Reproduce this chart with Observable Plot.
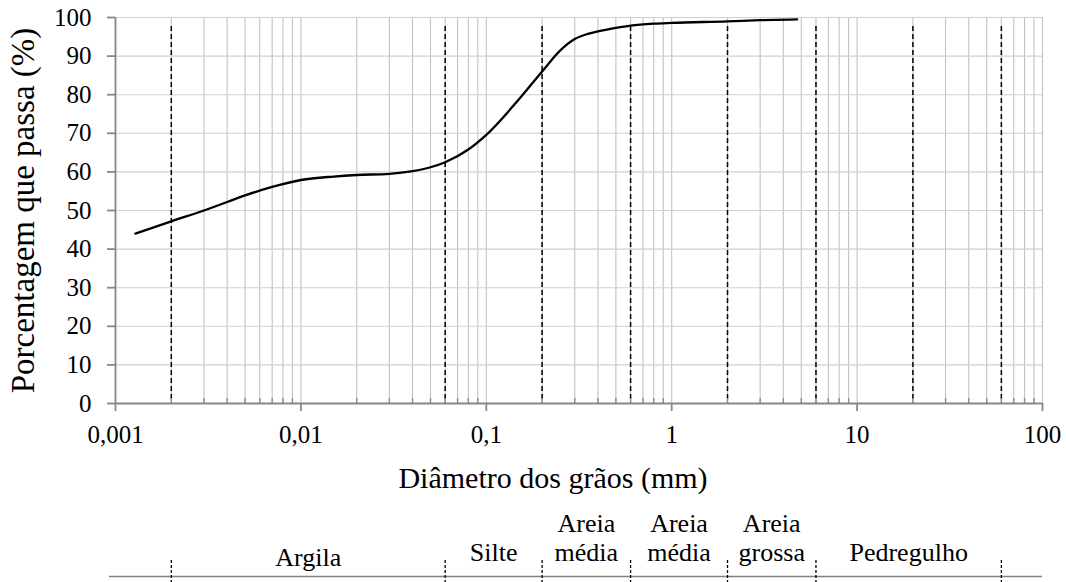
<!DOCTYPE html>
<html><head><meta charset="utf-8">
<script src="https://cdn.jsdelivr.net/npm/d3@7"></script>
<script src="https://cdn.jsdelivr.net/npm/@observablehq/plot@0.6"></script>
<style>
html,body{margin:0;padding:0;background:#fff;}
#chart{width:1066px;height:582px;overflow:hidden;}
#chart svg{display:block;}
</style></head><body><div id="chart"></div>
<script>
// Grain size distribution
const diameter = [0.00128, 0.002, 0.003, 0.004, 0.005, 0.007, 0.01, 0.015, 0.02, 0.03, 0.04, 0.05, 0.06, 0.08, 0.1, 0.15, 0.2, 0.25, 0.3, 0.35, 0.4, 0.5, 0.6, 0.8, 1, 2, 3, 4.75];
const passing  = [44.0, 47.2, 50.0, 52.2, 53.9, 56.1, 57.9, 58.8, 59.2, 59.5, 60.2, 61.2, 62.5, 65.8, 69.6, 78.8, 86.0, 91.4, 94.4, 95.7, 96.4, 97.3, 97.9, 98.4, 98.6, 99.0, 99.3, 99.5];

// Class limits (mm)
const limits = [0.002, 0.06, 0.2, 0.6, 2, 6, 20, 60];
const tableLimits = [0.002, 0.06, 0.2, 0.6, 2, 6, 60];
const classNames = ["Argila", "Silte", "Areia\nmédia", "Areia\nmédia", "Areia\ngrossa", "Pedregulho"];
const classLo = [0.002, 0.06, 0.2, 0.6, 2, 6];
const classHi = [0.06, 0.2, 0.6, 2, 6, 60];

// Ticks
const xTickValues = [0.001, 0.01, 0.1, 1, 10, 100];
const xTickLabels = ["0,001", "0,01", "0,1", "1", "10", "100"];
const yTickValues = [0, 10, 20, 30, 40, 50, 60, 70, 80, 90, 100];

const minor = [];
for (let k = -3; k <= 1; k++) for (let m = 2; m <= 9; m++) minor.push(+(m * Math.pow(10, k)).toPrecision(6));

const curveData = diameter.map((d, i) => ({d, p: passing[i]}));
const classes = classNames.map((name, i) => ({name, lo: classLo[i], hi: classHi[i]}));

const font = "'Liberation Serif','Times New Roman',serif";
const axisGrey = "#878787";

const main = Plot.plot({
  width: 1066, height: 510,
  marginTop: 17, marginBottom: 107, marginLeft: 115, marginRight: 24,
  style: {fontFamily: font, fontSize: "25px", color: "#000", background: "#fff", overflow: "visible"},
  x: {type: "log", domain: [0.001, 100], axis: null},
  y: {domain: [0, 100], axis: null},
  marks: [
    Plot.ruleX([...minor, ...xTickValues.slice(1)], {stroke: "#c2c2c2", strokeWidth: 1.1}),
    Plot.ruleY(yTickValues.slice(1), {stroke: "#d0d0d0", strokeWidth: 1.1}),
    Plot.ruleX(limits, {stroke: "#000", strokeWidth: 1.5, strokeDasharray: "5,3", insetTop: 9}),
    Plot.ruleX(minor, {stroke: "#8c8c8c", strokeWidth: 1.4, insetTop: 381}),
    Plot.ruleY([0], {stroke: axisGrey, strokeWidth: 1.8}),
    Plot.ruleX([0.001], {stroke: axisGrey, strokeWidth: 1.8}),
    Plot.axisX(xTickValues, {tickFormat: d => xTickLabels[xTickValues.indexOf(d)], tickSize: 8, tickPadding: 14, stroke: axisGrey, strokeWidth: 1.8, fontSize: 25, label: null}),
    Plot.axisY(yTickValues, {tickSize: 8, tickPadding: 16, stroke: axisGrey, strokeWidth: 1.8, fontSize: 25, label: null}),
    Plot.text(["Porcentagem que passa (%)"], {frameAnchor: "left", textAnchor: "middle", rotate: -90, dx: -92, fontSize: 33, lineAnchor: "middle"}),
    Plot.text(["Diâmetro dos grãos (mm)"], {frameAnchor: "bottom", dy: 75, dx: -26, fontSize: 30, lineAnchor: "middle"}),
    Plot.line(curveData, {x: "d", y: "p", curve: "monotone-x", stroke: "#000", strokeWidth: 2.3})
  ]
});

const table = Plot.plot({
  width: 1066, height: 72,
  marginTop: 0, marginBottom: 6, marginLeft: 115, marginRight: 24,
  style: {fontFamily: font, fontSize: "26px", color: "#000", background: "#fff", overflow: "visible"},
  x: {type: "log", domain: [0.001, 100], axis: null},
  y: {domain: [0, 1], axis: null},
  marks: [
    Plot.ruleY([0], {stroke: "#808080", strokeWidth: 1.6, insetLeft: -6}),
    Plot.ruleX(tableLimits, {stroke: "#000", strokeWidth: 1.3, strokeDasharray: "3,2", insetTop: 50, insetBottom: -6}),
    Plot.text(classes.filter(c => c.name === "Argila"), {x: c => Math.sqrt(c.lo * c.hi), text: "name", frameAnchor: "bottom", lineAnchor: "bottom", dy: -11, fontSize: 26}),
    Plot.text(classes.filter(c => c.name !== "Argila"), {x: c => Math.sqrt(c.lo * c.hi), text: "name", frameAnchor: "bottom", lineAnchor: "bottom", dy: -16, lineHeight: 1.08, fontSize: 26})
  ]
});

const el = document.getElementById("chart");
el.appendChild(main);
el.appendChild(table);
</script>
</body></html>
